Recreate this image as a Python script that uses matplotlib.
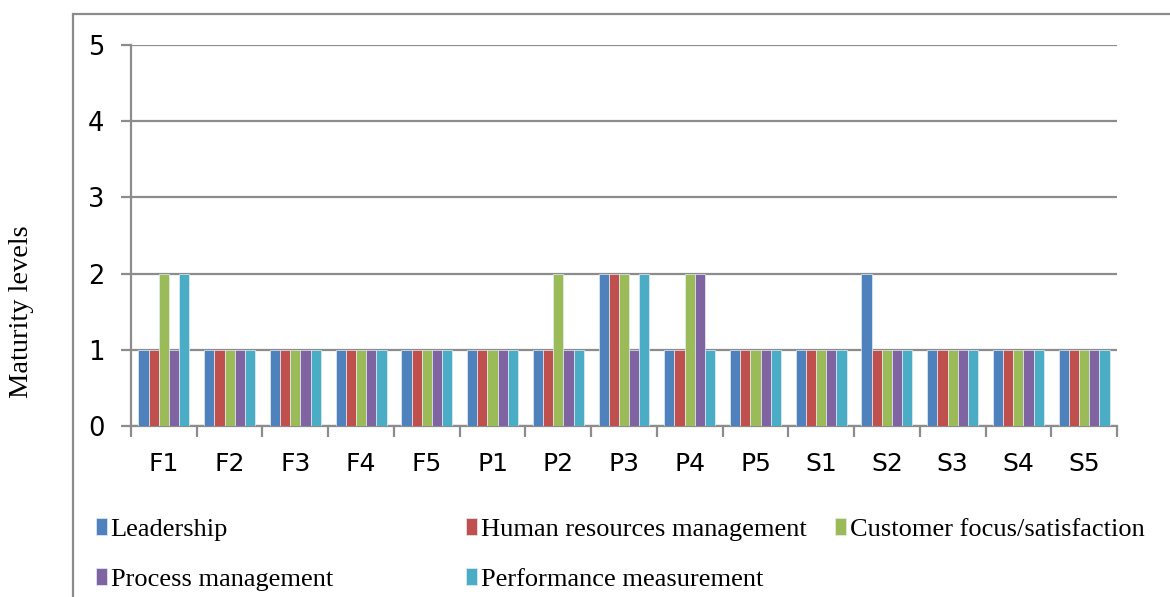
import numpy as np
import matplotlib.pyplot as plt
from matplotlib.patches import Rectangle

categorias = ["F1", "F2", "F3", "F4", "F5", "P1", "P2", "P3", "P4", "P5",
              "S1", "S2", "S3", "S4", "S5"]
leadership = [1, 1, 1, 1, 1, 1, 1, 2, 1, 1, 1, 2, 1, 1, 1]
human_resources = [1, 1, 1, 1, 1, 1, 1, 2, 1, 1, 1, 1, 1, 1, 1]
customer_focus = [2, 1, 1, 1, 1, 1, 2, 2, 2, 1, 1, 1, 1, 1, 1]
process_mgmt = [1, 1, 1, 1, 1, 1, 1, 1, 2, 1, 1, 1, 1, 1, 1]
performance = [2, 1, 1, 1, 1, 1, 1, 2, 1, 1, 1, 1, 1, 1, 1]

series = [
    ("Leadership", leadership, "#4F81BD"),
    ("Human resources management", human_resources, "#C0504D"),
    ("Customer focus/satisfaction", customer_focus, "#9BBB59"),
    ("Process management", process_mgmt, "#8064A2"),
    ("Performance measurement", performance, "#4BACC6"),
]

grid_cor = "#8c8c8c"
fig = plt.figure(figsize=(11.7, 5.97), dpi=100)
ax = fig.add_axes([131 / 1170, 1 - 426 / 597, 986 / 1170, 381 / 597])

x = np.arange(len(categorias))
largura = 0.155
barras = []
for i, (nome, valores, cor) in enumerate(series):
    b = ax.bar(x + (i - 2) * largura, valores, largura, color=cor,
               edgecolor="#e4eef5", linewidth=0.5, label=nome, zorder=3)
    barras.append(b)

ax.set_xlim(-0.5, len(categorias) - 0.5)
ax.set_ylim(0, 5)
ax.set_yticks(range(6))
ax.yaxis.grid(True, color=grid_cor, linewidth=1.6, zorder=0)
ax.set_axisbelow(True)

ax.set_xticks(x)
ax.set_xticklabels(categorias)
ax.set_xticks(np.arange(-0.5, len(categorias)), minor=True)
ax.tick_params(axis="x", which="major", length=0, pad=19, labelsize=18)
ax.tick_params(axis="x", which="minor", length=8, width=1.6, color=grid_cor)
ax.tick_params(axis="y", length=7, width=1.6, color=grid_cor, pad=12, labelsize=18.5)

for lado in ["top", "right"]:
    ax.spines[lado].set_visible(False)
for lado in ["left", "bottom"]:
    ax.spines[lado].set_color(grid_cor)
    ax.spines[lado].set_linewidth(1.6)

fig.text(22 / 1170, 1 - 312 / 597, "Maturity levels", rotation=90,
         ha="center", va="center", family="Liberation Serif", fontsize=20.5)

# borda externa do grafico
borda = Rectangle((73 / 1170, -0.1), 1.2, 1 - 14 / 597 + 0.1,
                  transform=fig.transFigure, fill=False,
                  edgecolor=grid_cor, linewidth=1.6, clip_on=False)
fig.patches.append(borda)

# legenda em 3 colunas com espacamento fixo
colunas = [(96, [0, 3]), (466, [1, 4]), (835, [2])]
for xpos, idx in colunas:
    leg = fig.legend([barras[k] for k in idx], [series[k][0] for k in idx],
                     loc="upper left", bbox_to_anchor=(xpos / 1170, 1 - 518 / 597),
                     frameon=False, prop={"family": "Liberation Serif", "size": 19},
                     handlelength=0.4, handleheight=0.6, handletextpad=0.15,
                     labelspacing=1.05, borderaxespad=0, borderpad=0)

fig.savefig("out.png", dpi=100)
